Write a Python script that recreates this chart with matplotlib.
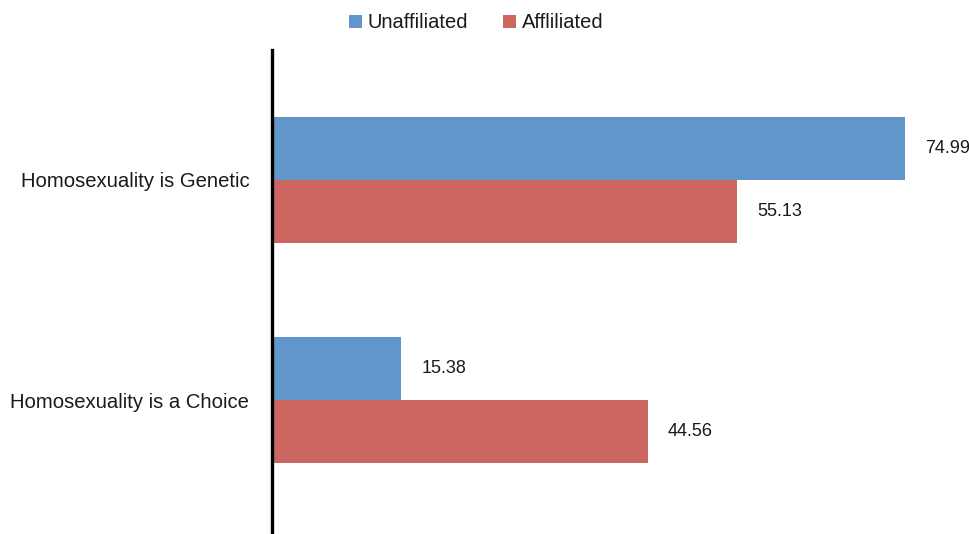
import matplotlib
matplotlib.use("Agg")
import matplotlib.pyplot as plt
from matplotlib.patches import Patch
import numpy as np

categories = ["Homosexuality is Genetic", "Homosexuality is a Choice"]
series_names = ["Unaffiliated", "Affliliated"]
unaffiliated = [74.99, 15.38]
affiliated = [55.13, 44.56]

colors = ["#6096C9", "#CC6660"]
text_color = "#1a1a1a"

plt.rcParams["font.family"] = ["Liberation Sans", "DejaVu Sans"]

fig = plt.figure(figsize=(9.70, 5.34), dpi=100)
ax = fig.add_axes([271.5 / 970, 0.0, 1 - 271.5 / 970, 1 - 50 / 534])

y = np.arange(len(categories))
h = 0.285
bars_u = ax.barh(y - h / 2, unaffiliated, height=h, color=colors[0], label=series_names[0])
bars_a = ax.barh(y + h / 2, affiliated, height=h, color=colors[1], label=series_names[1])

for bars, vals in ((bars_u, unaffiliated), (bars_a, affiliated)):
    for b, v in zip(bars, vals):
        ax.annotate(f"{v:.2f}", xy=(v, b.get_y() + b.get_height() / 2),
                    xytext=(20, 0), textcoords="offset pixels",
                    ha="left", va="center", fontsize=13, color=text_color)

ax.set_xlim(0, 82.7)
ax.set_ylim(1.608, -0.59)
ax.set_yticks(y)
ax.set_yticklabels(categories, fontsize=14.6, color=text_color)
ax.tick_params(axis="y", length=0, pad=16)
ax.set_xticks([])
for s in ("top", "right", "bottom"):
    ax.spines[s].set_visible(False)
ax.spines["left"].set_linewidth(2.4)
ax.spines["left"].set_color("black")

handles = [Patch(facecolor=c, label=n) for c, n in zip(colors, series_names)]
fig.legend(handles=handles, loc="center", bbox_to_anchor=(476 / 970, 1 - 23 / 534),
           ncol=2, frameon=False, fontsize=14.5, handlelength=0.65, handleheight=0.65,
           handletextpad=0.3, columnspacing=1.7, labelcolor=text_color)

fig.savefig("out.png", dpi=100)
